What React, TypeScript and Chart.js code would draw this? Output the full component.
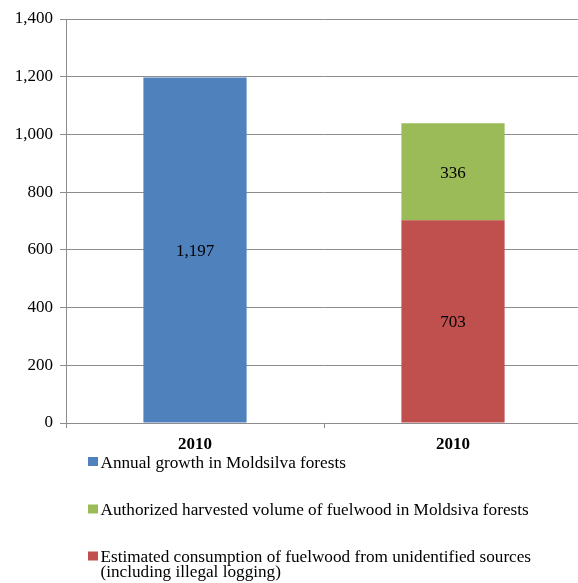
import React, { useEffect, useRef } from "react";
import { Chart, registerables } from "chart.js";

Chart.register(...registerables);

const categories = ["2010", "2010"];
const seriesNames = [
  "Annual growth in Moldsilva forests",
  "Estimated consumption of fuelwood from unidentified sources (including illegal logging)",
  "Authorized harvested volume of fuelwood in Moldsiva forests",
];
const growthValues = [1197, null];
const illegalValues = [null, 703];
const authorizedValues = [null, 336];
const seriesColors = ["#4F81BD", "#C0504D", "#9BBB59"];
const legendOrder = [0, 2, 1];
const legendLines = [
  ["Annual growth in Moldsilva forests"],
  ["Estimated consumption of fuelwood from unidentified sources", "(including illegal logging)"],
  ["Authorized harvested volume of fuelwood in Moldsiva forests"],
];
const yTicks = { min: 0, max: 1400, step: 200 };

const FONT = "'Liberation Serif', 'Times New Roman', serif";

const valueLabelPlugin = {
  id: "valueLabels",
  afterDatasetsDraw(chart: any) {
    const ctx = chart.ctx;
    ctx.save();
    ctx.font = `17px ${FONT}`;
    ctx.fillStyle = "#000";
    ctx.textAlign = "center";
    ctx.textBaseline = "middle";
    chart.data.datasets.forEach((ds: any, di: number) => {
      const meta = chart.getDatasetMeta(di);
      meta.data.forEach((bar: any, i: number) => {
        const v = ds.data[i];
        if (v == null) return;
        const p = bar.getProps(["x", "y", "base"], true);
        ctx.fillText(v.toLocaleString("en-US"), p.x, (p.y + p.base) / 2 + 1.5);
      });
    });
    ctx.restore();
  },
};

const legendPlugin = {
  id: "bottomLegend",
  afterDraw(chart: any) {
    const ctx = chart.ctx;
    ctx.save();
    ctx.font = `17.2px ${FONT}`;
    ctx.textBaseline = "alphabetic";
    ctx.textAlign = "left";
    const rowBaseline = [467.5, 515, 562];
    const lineH = 15;
    legendOrder.forEach((di, row) => {
      const ds = chart.data.datasets[di];
      const y = rowBaseline[row];
      ctx.fillStyle = ds.backgroundColor;
      ctx.fillRect(88, y - 10.5, 10, 9);
      ctx.fillStyle = "#000";
      legendLines[di].forEach((line, li) => {
        ctx.fillText(line, 100.5, y + li * lineH);
      });
    });
    ctx.restore();
  },
};

export default function App() {
  const canvasRef = useRef<HTMLCanvasElement>(null);

  useEffect(() => {
    if (!canvasRef.current) return;
    const seriesData = [growthValues, illegalValues, authorizedValues];
    const chart = new Chart(canvasRef.current, {
      type: "bar",
      data: {
        labels: categories,
        datasets: seriesNames.map((name, i) => ({
          label: name,
          data: seriesData[i],
          backgroundColor: seriesColors[i],
          borderWidth: 0,
          barPercentage: 0.4,
          categoryPercentage: 1,
        })),
      },
      options: {
        animation: false,
        responsive: false,
        maintainAspectRatio: false,
        layout: { padding: { top: 19, right: 2, bottom: 130, left: 0 } },
        plugins: {
          legend: { display: false },
          tooltip: { enabled: false },
          title: { display: false },
        },
        scales: {
          x: {
            stacked: true,
            afterFit: (s: any) => {
              s.height = 30;
            },
            grid: {
              offset: true,
              drawOnChartArea: false,
              drawTicks: true,
              tickLength: 5,
              color: "#8c8c8c",
            },
            border: { display: true, color: "#8c8c8c", width: 1 },
            ticks: {
              color: "#000",
              font: { family: FONT, size: 17, weight: "bold" },
              padding: 6,
              maxRotation: 0,
            },
          },
          y: {
            stacked: true,
            min: yTicks.min,
            max: yTicks.max,
            afterFit: (s: any) => {
              s.width = 66;
            },
            grid: {
              color: "#8c8c8c",
              lineWidth: 1,
              tickLength: 6,
              drawTicks: true,
            },
            border: { display: true, color: "#8c8c8c", width: 1 },
            ticks: {
              stepSize: yTicks.step,
              color: "#000",
              padding: 7,
              font: { family: FONT, size: 17 },
              callback: (v: any) => Number(v).toLocaleString("en-US"),
            },
          },
        },
      },
      plugins: [valueLabelPlugin, legendPlugin],
    });
    return () => chart.destroy();
  }, []);

  return (
    <div
      style={{
        position: "fixed",
        left: 0,
        top: 0,
        width: 578,
        height: 583,
        overflow: "hidden",
        background: "#fff",
      }}
    >
      <canvas ref={canvasRef} width={584} height={583} style={{ display: "block" }} />
    </div>
  );
}
